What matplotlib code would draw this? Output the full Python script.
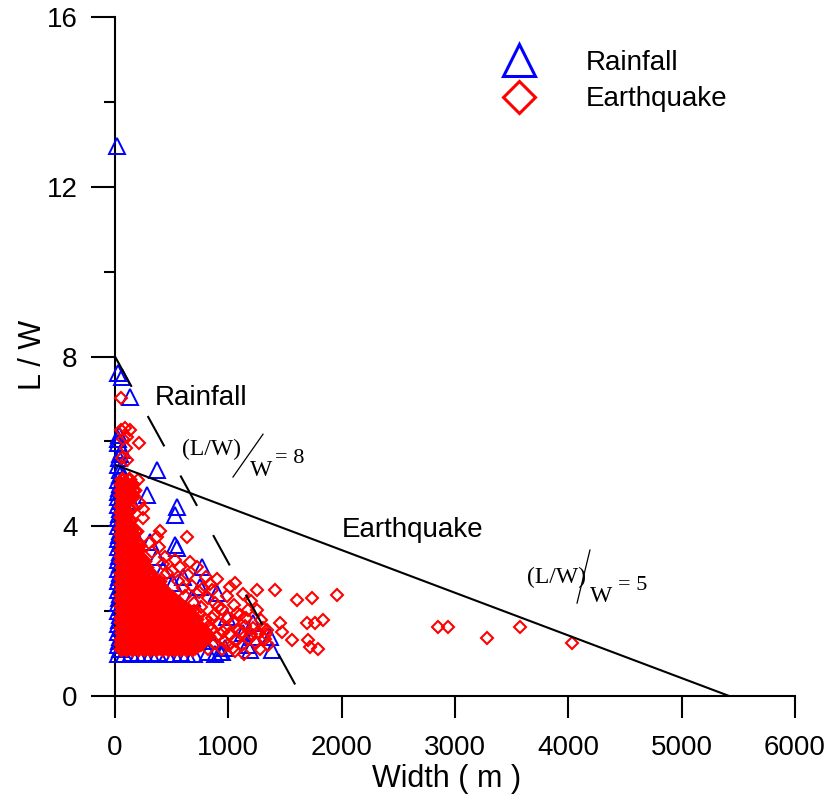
import matplotlib
matplotlib.use('Agg')
import matplotlib.pyplot as plt
from matplotlib.lines import Line2D
from matplotlib.ticker import MultipleLocator

plt.rcParams['font.family'] = ['Liberation Sans', 'DejaVu Sans']

# ---------------- data (width in m, L/W ratio) ----------------
# Earthquake: dense core near the origin (two staggered sets of rows)
eq_width = [
    50, 100, 150, 205, 255, 310, 360, 415, 465, 520, 570, 625, 680,
    55, 105, 160, 210, 265, 315, 370, 420, 475, 530, 580, 635, 690, 740,
    50, 100, 155, 205, 260, 310, 365, 420, 470, 525, 575, 630, 685, 735, 790,
    60, 110, 165, 215, 270, 320, 375, 430, 480, 535, 585, 640, 690, 745, 800,
    50, 105, 155, 210, 260, 315, 365, 420, 475, 525, 580, 630, 685, 740,
    55, 110, 160, 215, 265, 320, 370, 425, 480, 530, 585, 635, 690,
    50, 100, 155, 205, 260, 310, 365, 420, 470, 525, 575, 630, 680,
    60, 110, 165, 215, 270, 320, 375, 425, 480, 530, 585, 640,
    50, 105, 155, 210, 260, 315, 365, 420, 470, 525, 575,
    55, 105, 160, 210, 265, 315, 370, 420, 475, 520,
    50, 100, 155, 205, 260, 310, 365, 415, 470,
    60, 110, 165, 215, 270, 320, 375, 425,
    50, 105, 155, 210, 260, 315, 365,
    55, 110, 160, 215, 265, 320,
    50, 100, 155, 205, 260, 310,
    60, 110, 165, 215, 270,
    50, 105, 155, 210, 260,
    55, 105, 160, 210,
    50, 100, 155, 205,
    60, 110, 165, 215,
    50, 105, 155,
    55, 110, 160,
    50, 100, 150,
    60, 110,
    50, 100,
    55, 105,
    50,
    60, 110,
    50, 100, 150,
    55, 110, 165,
    50, 100, 150,
    60, 120,
]
eq_ratio = (
    [1.10] * 13 + [1.22] * 14 + [1.35] * 15 + [1.48] * 15 + [1.61] * 14 +
    [1.74] * 13 + [1.87] * 13 + [2.00] * 12 + [2.13] * 11 + [2.26] * 10 +
    [2.39] * 9 + [2.52] * 8 + [2.65] * 7 + [2.78] * 6 + [2.91] * 6 +
    [3.04] * 5 + [3.17] * 5 + [3.30] * 4 + [3.43] * 4 + [3.56] * 4 +
    [3.69] * 3 + [3.82] * 3 + [3.95] * 3 + [4.08] * 2 + [4.21] * 2 +
    [4.34] * 2 + [4.47] * 1 + [4.60] * 2 + [4.73] * 3 + [4.86] * 3 +
    [4.99] * 3 + [5.12] * 2
)

eq_width2 = [
    75, 125, 180, 230, 285, 335, 390, 440, 495, 545, 600, 655, 705,
    80, 130, 185, 235, 290, 340, 395, 450, 500, 555, 605, 660, 715, 765,
    75, 130, 180, 235, 285, 340, 395, 445, 500, 550, 605, 660, 710, 765, 820,
    85, 135, 190, 240, 295, 345, 400, 455, 505, 560, 610, 665, 715, 770,
    80, 130, 185, 235, 290, 340, 395, 450, 500, 555, 605, 660, 710,
    80, 135, 185, 240, 290, 345, 395, 450, 505, 555, 610, 660, 715,
    75, 125, 180, 230, 285, 335, 390, 445, 495, 550, 600, 655,
    85, 135, 190, 240, 295, 345, 400, 450, 505, 555, 610,
    80, 130, 180, 235, 285, 340, 390, 445, 495, 550,
    80, 130, 185, 235, 290, 340, 395, 445, 500,
    75, 125, 180, 230, 285, 335, 390, 440,
    85, 135, 190, 240, 295, 345, 400,
    80, 130, 180, 235, 285, 340, 390,
    80, 135, 185, 240, 290,
    75, 125, 180, 230, 285,
    85, 135, 190, 240,
    80, 130, 180, 235,
    80, 130, 185,
    75, 125, 180,
    85, 135, 190,
    80, 130,
    80, 130, 185,
    75, 125,
    85, 135,
    80,
    80, 130,
    75,
    85,
    80, 135,
    75, 130,
    90,
]
eq_ratio2 = (
    [1.16] * 13 + [1.29] * 14 + [1.42] * 15 + [1.55] * 14 + [1.68] * 13 +
    [1.81] * 13 + [1.94] * 12 + [2.07] * 11 + [2.20] * 10 + [2.33] * 9 +
    [2.46] * 8 + [2.59] * 7 + [2.72] * 7 + [2.85] * 5 + [2.98] * 5 +
    [3.11] * 4 + [3.24] * 4 + [3.37] * 3 + [3.50] * 3 + [3.63] * 3 +
    [3.76] * 2 + [3.89] * 3 + [4.02] * 2 + [4.15] * 2 + [4.28] * 1 +
    [4.41] * 2 + [4.54] * 1 + [4.67] * 1 + [4.80] * 2 + [4.93] * 2 +
    [5.05] * 1
)

# Earthquake: scattered points
eq_width_sc = [50, 55, 90, 130, 210, 70, 110, 95, 60, 105, 200, 160, 220, 250, 250,
               397, 370, 635, 390, 440, 530, 575, 660, 720, 645, 460, 330, 300, 420,
               500, 560, 600, 680, 740, 800, 860, 620, 700, 760, 820, 880, 940, 990,
               1050, 1100, 740, 800, 860, 920, 980, 1040, 1090, 1150, 1200, 1260, 1320,
               850, 900, 960, 1010, 1070, 1120, 1180, 1240, 760, 820, 880, 940, 1000,
               1060, 1140, 1280, 1350,
               720, 780, 830, 870, 910, 950, 1000, 1080, 1120, 1160, 1220, 1290, 1340,
               700, 780, 840, 900,
               1059, 1015, 1253, 1412, 1606, 1738, 1959, 1694, 1765, 1835, 1456, 1474,
               1562, 1703, 1721, 1791, 1041, 1253, 1173, 1306, 1330, 1130, 1200,
               2850, 2938, 3282, 3574, 4032]
eq_ratio_sc = [7.02, 6.28, 6.32, 6.27, 5.96, 6.05, 6.10, 5.85, 5.60, 5.55, 5.09, 5.00, 4.55, 4.40, 4.20,
               3.90, 3.75, 3.75, 3.50, 3.27, 3.20, 3.04, 3.16, 3.04, 2.85, 2.90, 3.40, 3.60, 3.10,
               2.95, 2.70, 2.55, 2.60, 2.45, 2.80, 2.50, 2.35, 2.20, 2.10, 2.30, 2.20, 2.05, 2.35,
               2.15, 1.90, 1.95, 1.80, 1.85, 1.70, 1.60, 1.75, 1.55, 1.65, 1.45, 1.50, 1.35,
               1.55, 1.40, 1.30, 1.45, 1.30, 1.20, 1.35, 1.25, 1.20, 1.10, 1.25, 1.10, 1.20,
               1.05, 1.00, 1.10, 1.20,
               1.30, 1.45, 1.65, 1.90, 2.10, 1.50, 1.85, 1.95, 1.50, 1.85, 1.60, 1.80, 1.55,
               2.00, 2.55, 2.65, 2.75,
               2.66, 2.57, 2.50, 2.50, 2.26, 2.31, 2.38, 1.72, 1.72, 1.79, 1.72, 1.51,
               1.32, 1.32, 1.15, 1.10, 1.13, 2.03, 2.03, 1.60, 1.45, 2.40, 2.25,
               1.63, 1.63, 1.37, 1.63, 1.25]

# Rainfall
rf_width = [20, 25, 60, 130, 30, 60, 44, 370, 282, 30, 75, 547, 530, 530, 547, 767, 370,
            423, 750, 900, 988, 970, 1190, 1385, 1218, 1368, 1218, 944, 635, 460, 309,
            512, 1130, 1165, 926,
            30, 40, 25, 35, 45, 30, 40, 25, 35, 45, 30, 40, 25, 35, 45, 30, 40, 25, 35, 45,
            30, 40, 25, 35, 45, 30, 40, 25, 35, 45, 30, 40, 25, 35, 45, 30, 40, 25, 35, 45,
            30, 40, 25, 35, 45, 25, 35,
            80, 140, 200, 260, 320, 380, 520, 580, 700, 820, 880,
            120, 160, 80, 140, 100, 70, 200, 250, 300, 420, 480, 560, 650, 720, 800, 860,
            680, 600]
rf_ratio = [12.95, 7.61, 7.52, 7.05, 5.96, 5.80, 5.33, 5.33, 4.74, 4.69, 4.55, 4.45, 4.27, 3.56, 3.49, 3.04, 3.27,
            2.97, 2.57, 2.43, 1.86, 1.13, 1.08, 1.08, 1.39, 1.39, 1.72, 1.04, 1.00, 1.00, 3.63,
            2.66, 1.48, 1.20, 1.04,
            1.0, 1.1, 1.2, 1.3, 1.4, 1.5, 1.6, 1.7, 1.8, 1.9, 2.0, 2.1, 2.2, 2.3, 2.4, 2.5, 2.6, 2.7, 2.8, 2.9,
            3.0, 3.1, 3.2, 3.3, 3.4, 3.5, 3.6, 3.7, 3.8, 3.9, 4.0, 4.1, 4.2, 4.3, 4.4, 4.5, 4.6, 4.8, 4.9, 5.0,
            5.1, 5.2, 5.45, 5.6, 5.7, 6.05, 6.15,
            1.00, 1.02, 1.00, 1.01, 1.00, 1.02, 1.00, 1.01, 1.00, 1.03, 1.00,
            4.10, 3.90, 4.30, 4.60, 5.00, 5.15, 3.40, 3.00, 2.70, 2.50, 2.20, 2.00, 1.80, 1.60, 1.50, 1.30,
            2.30, 2.80]

# threshold lines
rain_line_w = [0, 1590]
rain_line_r = [8.0, 0.27]
eq_line_w = [0, 5420]
eq_line_r = [5.45, 0.0]

# ---------------- plot ----------------
fig = plt.figure(figsize=(8.25, 7.95), dpi=100)
ax = fig.add_axes([0.1394, 0.1245, 0.8242, 0.8541])

ax.plot(rf_width, rf_ratio, linestyle='none', marker='^', markersize=11,
        markerfacecolor='none', markeredgecolor='#0000ff', markeredgewidth=1.4,
        clip_on=False, zorder=3)
# dense core: drawn with a heavier outline so the overlapping diamonds merge
ax.plot(eq_width + eq_width2, eq_ratio + eq_ratio2,
        linestyle='none', marker='D', markersize=6.5, markerfacecolor='none',
        markeredgecolor='#ff0000', markeredgewidth=2.4, clip_on=False, zorder=4)
ax.plot(eq_width_sc, eq_ratio_sc,
        linestyle='none', marker='D', markersize=6.5, markerfacecolor='none',
        markeredgecolor='#ff0000', markeredgewidth=1.5, clip_on=False, zorder=4)

ax.plot(eq_line_w, eq_line_r, color='black', lw=1.5, zorder=5)
dl, = ax.plot(rain_line_w, rain_line_r, color='black', lw=1.5, zorder=5)
dl.set_dashes([16.6, 16.0])

ax.text(353, 6.86, 'Rainfall', fontsize=20, ha='left', va='baseline')
ax.text(2003, 3.75, 'Earthquake', fontsize=20, ha='left', va='baseline')

serif = ['Liberation Serif', 'DejaVu Serif']
# (L/W)/W = 8
ax.text(591, 5.68, '(L/W)', fontsize=17, family=serif, ha='left', va='baseline')
ax.plot([1306, 1041], [6.17, 5.16], color='black', lw=0.9, zorder=5)
ax.text(1191, 5.18, 'W', fontsize=17, family=serif, ha='left', va='baseline')
ax.text(1412, 5.49, '= 8', fontsize=16, family=serif, ha='left', va='baseline')
# (L/W)/W = 5
ax.text(3635, 2.66, '(L/W)', fontsize=17, family=serif, ha='left', va='baseline')
ax.plot([4191, 4077], [3.44, 2.19], color='black', lw=0.9, zorder=5)
ax.text(4191, 2.21, 'W', fontsize=17, family=serif, ha='left', va='baseline')
ax.text(4438, 2.50, '= 5', fontsize=16, family=serif, ha='left', va='baseline')

handles = [Line2D([], [], linestyle='none', marker='^', markersize=23, markerfacecolor='none',
                  markeredgecolor='#0000ff', markeredgewidth=2.2),
           Line2D([], [], linestyle='none', marker='D', markersize=16, markerfacecolor='none',
                  markeredgecolor='#ff0000', markeredgewidth=2.2)]
ax.legend(handles, ['Rainfall', 'Earthquake'], loc='upper left', bbox_to_anchor=(0.562, 0.952),
          frameon=False, fontsize=20, handlelength=1.6, handletextpad=1.6,
          labelspacing=0.39, borderpad=0, borderaxespad=0, numpoints=1)

ax.set_xlim(0, 6000)
ax.set_ylim(0, 16)
ax.xaxis.set_major_locator(MultipleLocator(1000))
ax.yaxis.set_major_locator(MultipleLocator(4))
ax.yaxis.set_minor_locator(MultipleLocator(2))

for side in ['top', 'right']:
    ax.spines[side].set_visible(False)
for side in ['left', 'bottom']:
    ax.spines[side].set_linewidth(1.5)

ax.tick_params(axis='x', which='major', direction='out', length=16, width=1.5, pad=12, labelsize=20)
ax.tick_params(axis='y', which='major', direction='out', length=17, width=1.5, pad=10, labelsize=20)
ax.tick_params(axis='y', which='minor', direction='out', length=8, width=1.5)

ax.set_xlabel('Width ( m )', fontsize=22)
ax.set_ylabel('L / W', fontsize=22)
ax.xaxis.set_label_coords(0.488, -0.10)
ax.yaxis.set_label_coords(-0.0985, 0.502)

fig.savefig('out.png', dpi=100)
